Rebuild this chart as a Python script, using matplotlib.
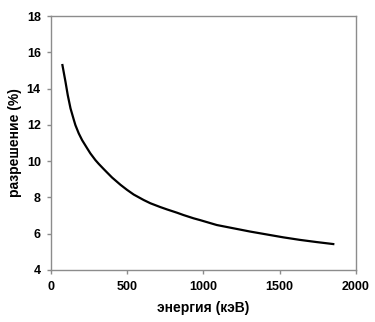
import matplotlib
matplotlib.use("Agg")
import matplotlib.pyplot as plt

energy = [78, 98, 113, 131, 153, 163, 185, 207, 240, 261, 294, 316, 349, 370,
          403, 458, 501, 545, 610, 654, 719, 763, 828, 871, 937, 980, 1089,
          1198, 1307, 1416, 1525, 1634, 1743, 1852]
resolution = [15.30, 14.38, 13.64, 12.91, 12.27, 11.99, 11.53, 11.16, 10.71,
              10.43, 10.06, 9.85, 9.56, 9.38, 9.10, 8.70, 8.42, 8.16, 7.86,
              7.68, 7.47, 7.34, 7.16, 7.03, 6.85, 6.75, 6.48, 6.30, 6.12,
              5.96, 5.80, 5.66, 5.54, 5.43]
xticks = [0, 500, 1000, 1500, 2000]
yticks = [4, 6, 8, 10, 12, 14, 16, 18]

plt.rcParams['font.family'] = ['Liberation Sans', 'DejaVu Sans']

fig = plt.figure(figsize=(3.75, 3.22), dpi=100)
ax = fig.add_axes([0.1347, 0.1615, 0.8143, 0.7885])
ax.plot(energy, resolution, color='black', linewidth=1.6,
        solid_joinstyle='round')
ax.set_xlim(0, 2000)
ax.set_ylim(4, 18)
ax.set_xticks(xticks)
ax.set_yticks(yticks)
for s in ax.spines.values():
    s.set_color('#8c8c8c')
    s.set_linewidth(1.0)
ax.tick_params(direction='out', length=3, width=1, color='#8c8c8c',
               labelsize=9)
ax.tick_params(axis='y', pad=4)
ax.tick_params(axis='x', pad=5)
for lab in ax.get_xticklabels() + ax.get_yticklabels():
    lab.set_fontweight('bold')
ax.set_xlabel('энергия (кэВ)', fontsize=10, fontweight='bold', labelpad=6)
ax.set_ylabel('разрешение (%)', fontsize=10, fontweight='bold', labelpad=3)
fig.savefig('out.png', dpi=100)
